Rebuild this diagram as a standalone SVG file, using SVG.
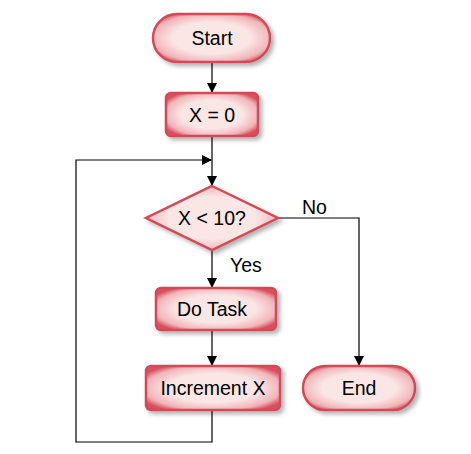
<svg xmlns="http://www.w3.org/2000/svg" width="471" height="454" viewBox="0 0 471 454">
<defs>
<radialGradient id="g" cx="50%" cy="50%" r="60%">
<stop offset="0.55" stop-color="#fbe6e6"/><stop offset="0.85" stop-color="#f0b4b8"/><stop offset="1" stop-color="#d9505e"/>
</radialGradient>
<filter id="sh" x="-20%" y="-20%" width="150%" height="160%"><feDropShadow dx="3" dy="3" stdDeviation="2" flood-color="#000" flood-opacity="0.3"/></filter>
<marker id="a" markerWidth="10" markerHeight="10" refX="9" refY="5" orient="auto" markerUnits="userSpaceOnUse"><path d="M0,0 L10,5 L0,10 z" fill="#000"/></marker>
</defs>
<style>
.n{fill:url(#g);stroke:#d24a58;stroke-width:2.5;filter:url(#sh)}
text{font-family:"Liberation Sans",Arial,sans-serif;font-size:19.5px;fill:#000}
.c{text-anchor:middle}
.l{fill:none;stroke:#000;stroke-width:1.2}
</style>
<rect width="471" height="454" fill="#fff"/>
<g id="connectors">
<path class="l" d="M212,62 V92" marker-end="url(#a)"/>
<path class="l" d="M212,136 V185" marker-end="url(#a)"/>
<path class="l" d="M212,250 V287" marker-end="url(#a)"/>
<path class="l" d="M212,330 V365" marker-end="url(#a)"/>
<path class="l" d="M212,410 V442 H76 V160 H211" marker-end="url(#a)"/>
<path class="l" d="M278,218 H359 V365" marker-end="url(#a)"/>
<text x="230" y="272">Yes</text>
<text x="302" y="214">No</text>
</g>
<g id="start"><rect class="n" x="153" y="14" width="117" height="48" rx="24"/><text class="c" x="212" y="45">Start</text></g>
<g id="init"><rect class="n" x="166" y="93" width="92" height="43" rx="5"/><text class="c" x="212" y="122">X = 0</text></g>
<g id="cond"><polygon class="n" points="212,186 278,218 212,250 146,218"/><text class="c" x="212" y="225">X &lt; 10?</text></g>
<g id="task"><rect class="n" x="156" y="288" width="120" height="42" rx="5"/><text class="c" x="212" y="316">Do Task</text></g>
<g id="inc"><rect class="n" x="146" y="366" width="134" height="44" rx="5"/><text class="c" x="213" y="395">Increment X</text></g>
<g id="end"><rect class="n" x="303" y="366" width="112" height="44" rx="22"/><text class="c" x="359" y="395">End</text></g>
</svg>
